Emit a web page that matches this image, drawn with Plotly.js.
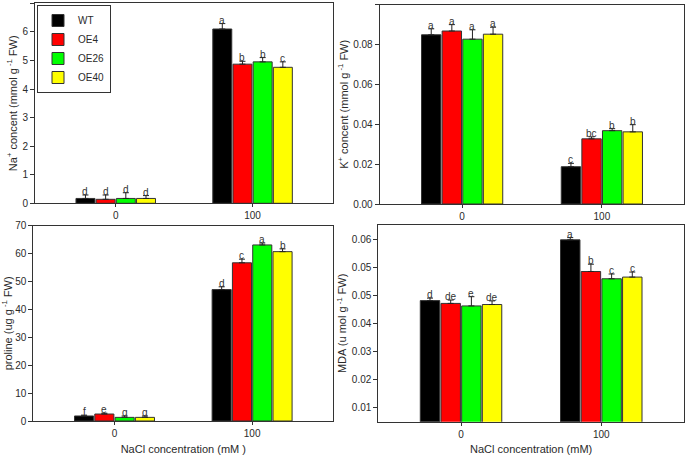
<!DOCTYPE html>
<html>
<head>
<meta charset="utf-8">
<script src="https://cdn.plot.ly/plotly-3.0.1.min.js"></script>
<style>html,body{margin:0;padding:0;background:#fff;}#chart{width:685px;height:455px;}</style>
</head>
<body>
<div id="chart"></div>
<script>
// ---- data ----
const categories = ['0', '100'];
const seriesNames = ['WT', 'OE4', 'OE26', 'OE40'];
const seriesColors = ['#000000', '#ff0000', '#00ff00', '#ffff00'];

// Na+ content (mmol g-1 FW): [NaCl 0, NaCl 100]
const naValues = [[0.17, 6.10], [0.14, 4.87], [0.17, 4.95], [0.17, 4.76]];
const naErrors = [[0.12, 0.19], [0.15, 0.10], [0.20, 0.15], [0.10, 0.19]];
const naLetters = [['d', 'a'], ['d', 'b'], ['d', 'b'], ['d', 'c']];

// K+ content (mmol g-1 FW)
const kValues = [[0.0849, 0.0187], [0.0868, 0.0327], [0.0827, 0.0368], [0.0852, 0.0362]];
const kErrors = [[0.0030, 0.0017], [0.0032, 0.0010], [0.0047, 0.0010], [0.0035, 0.0036]];
const kLetters = [['a', 'c'], ['a', 'bc'], ['a', 'b'], ['a', 'b']];

// proline (ug g-1 FW)
const proValues = [[1.8, 47.1], [2.5, 56.7], [1.3, 63.1], [1.3, 60.7]];
const proErrors = [[0.3, 1.0], [0.3, 1.3], [0.5, 0.7], [0.5, 1.0]];
const proLetters = [['f', 'd'], ['e', 'c'], ['g', 'a'], ['g', 'b']];

// MDA (u mol g-1 FW)
const mdaValues = [[0.0481, 0.0698], [0.0471, 0.0585], [0.0462, 0.0559], [0.0467, 0.0565]];
const mdaErrors = [[0.0009, 0.0008], [0.0012, 0.0026], [0.0033, 0.0017], [0.0013, 0.0018]];
const mdaLetters = [['d', 'a'], ['de', 'b'], ['e', 'c'], ['de', 'c']];
const mdaTickVals = [0.01, 0.02, 0.03, 0.04, 0.05, 0.06, 0.07];
const mdaTickText = ['0.01', '0.02', '0.03', '0.04', '0.05', '0.05', '0.06'];

// ---- build ----
const FONT = 'Liberation Sans, Arial, sans-serif';
const TXT = '#2a2a2a';
const BARGAP = 0.41;
const panels = [
  {vals: naValues, errs: naErrors, letters: naLetters, ax: ''},
  {vals: kValues, errs: kErrors, letters: kLetters, ax: '2'},
  {vals: proValues, errs: proErrors, letters: proLetters, ax: '3'},
  {vals: mdaValues, errs: mdaErrors, letters: mdaLetters, ax: '4'}
];

const traces = [];
const annotations = [];
const slot = (1 - BARGAP) / seriesNames.length;
panels.forEach((p, pi) => {
  seriesNames.forEach((name, si) => {
    traces.push({
      type: 'bar',
      name: name,
      x: categories,
      y: p.vals[si],
      xaxis: 'x' + p.ax,
      yaxis: 'y' + p.ax,
      showlegend: pi === 0,
      legendgroup: name,
      marker: {color: seriesColors[si], line: {color: '#333', width: 1}},
      error_y: {type: 'data', symmetric: false, array: p.errs[si],
                arrayminus: p.errs[si].map(() => 0), color: '#222', thickness: 1, width: 3}
    });
    categories.forEach((c, ci) => {
      annotations.push({
        xref: 'x' + p.ax, yref: 'y' + p.ax,
        x: ci + (si - (seriesNames.length - 1) / 2) * slot,
        y: p.vals[si][ci] + p.errs[si][ci],
        text: p.letters[si][ci], showarrow: false,
        yanchor: 'bottom', yshift: -4,
        font: {family: FONT, size: 10, color: '#333'}
      });
    });
  });
});

const W = 685, H = 455;
const dx = (a, b) => [a / W, b / W];
const dy = (top, bottom) => [1 - bottom / H, 1 - top / H];

const xBase = {
  type: 'category', range: [-0.59, 1.59], showgrid: false, zeroline: false,
  showline: true, linecolor: '#333', linewidth: 1, mirror: true,
  ticks: 'outside', ticklen: 3, tickcolor: '#333',
  tickfont: {family: FONT, size: 10, color: TXT}
};
const yBase = {
  showgrid: false, zeroline: false, showline: true, linecolor: '#333', linewidth: 1, mirror: true,
  ticks: 'outside', ticklen: 4, tickcolor: '#333',
  tickfont: {family: FONT, size: 10, color: TXT}
};
const titleFont = {family: FONT, size: 11, color: TXT};

const layout = {
  width: W, height: H,
  margin: {l: 0, r: 0, t: 0, b: 0},
  paper_bgcolor: '#fff', plot_bgcolor: '#fff',
  barmode: 'group', bargap: BARGAP, bargroupgap: 0.06,
  showlegend: true,
  legend: {x: 37 / W, y: 1 - 5 / H, xanchor: 'left', yanchor: 'top',
           bordercolor: '#333', borderwidth: 1, bgcolor: '#fff',
           font: {family: FONT, size: 10, color: TXT}, tracegroupgap: 0},
  xaxis: Object.assign({}, xBase, {domain: dx(35, 333.3), anchor: 'y'}),
  yaxis: Object.assign({}, yBase, {domain: dy(3.3, 203.3), anchor: 'x', range: [0, 7], dtick: 1,
          title: {text: 'Na<sup>+</sup> concent (mmol g<sup> -1</sup> FW)', font: titleFont, standoff: 2}}),
  xaxis2: Object.assign({}, xBase, {domain: dx(379.7, 684.3), anchor: 'y2'}),
  yaxis2: Object.assign({}, yBase, {domain: dy(4.7, 204), anchor: 'x2', range: [0, 0.1], dtick: 0.02,
          tickformat: '.2f',
          title: {text: 'K<sup>+</sup> concent (mmol g<sup> -1</sup> FW)', font: titleFont, standoff: 2}}),
  xaxis3: Object.assign({}, xBase, {domain: dx(33.3, 333.3), anchor: 'y3',
          title: {text: 'NaCl concentration (mM )', font: titleFont, standoff: 11}}),
  yaxis3: Object.assign({}, yBase, {domain: dy(225.7, 421), anchor: 'x3', range: [0, 70], dtick: 10,
          title: {text: 'proline (ug g<sup> -1</sup> FW)', font: titleFont, standoff: 2}}),
  xaxis4: Object.assign({}, xBase, {domain: dx(378.3, 684), anchor: 'y4',
          title: {text: 'NaCl concentration (mM)', font: titleFont, standoff: 11}}),
  yaxis4: Object.assign({}, yBase, {domain: dy(225, 421.7), anchor: 'x4', range: [0.00486, 0.0751],
          tickmode: 'array', tickvals: mdaTickVals, ticktext: mdaTickText,
          title: {text: 'MDA (u mol g<sup> -1</sup> FW)', font: titleFont, standoff: 2}}),
  annotations: annotations
};

Plotly.newPlot('chart', traces, layout, {staticPlot: true, displayModeBar: false});
</script>
</body>
</html>
